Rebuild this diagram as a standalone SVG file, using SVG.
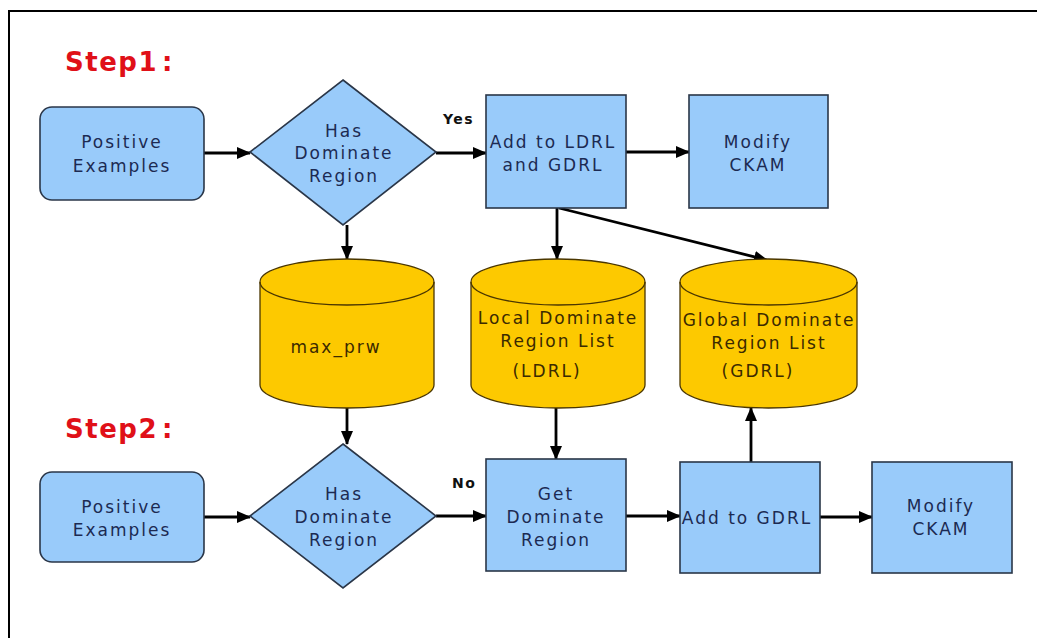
<svg xmlns="http://www.w3.org/2000/svg" width="1037" height="638" viewBox="0 0 1037 638">
  <style>
    .frame { fill: none; stroke: #000; stroke-width: 2; }
    .box { fill: #99cbfa; stroke: #2a3648; stroke-width: 1.6; }
    .db { fill: #fdc900; stroke: #4a3600; stroke-width: 1.3; }
    .db-line { fill: none; stroke: #4a3600; stroke-width: 1.3; }
    .lbl { font-family: "DejaVu Sans", Verdana, sans-serif; font-size: 17px; letter-spacing: 2px; fill: #1c2a52; text-anchor: middle; }
    .dbl { font-family: "DejaVu Sans", Verdana, sans-serif; font-size: 17px; letter-spacing: 2px; fill: #3b2a00; text-anchor: middle; }
    .step { font-family: "DejaVu Sans", Verdana, sans-serif; font-size: 26px; font-weight: bold; letter-spacing: 1.5px; fill: #e01018; }
    .cond { font-family: "DejaVu Sans", Verdana, sans-serif; font-size: 14px; font-weight: bold; letter-spacing: 1.5px; fill: #111; }
    .edge { fill: none; stroke: #000; stroke-width: 2.8; }
  </style>
  <defs>
    <marker id="arrow" markerUnits="userSpaceOnUse" markerWidth="14" markerHeight="12" refX="13" refY="6" orient="auto">
      <path d="M0,0 L14,6 L0,12 Z" fill="#000"/>
    </marker>
  </defs>

  <rect width="1037" height="638" fill="#fff"/>
  <rect class="frame" x="9" y="11" width="1040" height="640"/>

  <!-- step headings -->
  <text class="step" x="65" y="71">Step1<tspan dx="4">:</tspan></text>
  <text class="step" x="65" y="438">Step2<tspan dx="4">:</tspan></text>

  <!-- connectors -->
  <g id="connectors">
    <line class="edge" x1="204" y1="153" x2="250" y2="153" marker-end="url(#arrow)"/>
    <line class="edge" x1="436" y1="153" x2="486" y2="153" marker-end="url(#arrow)"/>
    <line class="edge" x1="626" y1="152" x2="689" y2="152" marker-end="url(#arrow)"/>
    <line class="edge" x1="557" y1="208" x2="557" y2="259" marker-end="url(#arrow)"/>
    <line class="edge" x1="559" y1="208" x2="767" y2="260" marker-end="url(#arrow)"/>
    <line class="edge" x1="347" y1="225" x2="347" y2="259" marker-end="url(#arrow)"/>
    <line class="edge" x1="347" y1="408" x2="347" y2="444" marker-end="url(#arrow)"/>
    <line class="edge" x1="556" y1="408" x2="556" y2="459" marker-end="url(#arrow)"/>
    <line class="edge" x1="204" y1="517" x2="250" y2="517" marker-end="url(#arrow)"/>
    <line class="edge" x1="436" y1="516" x2="486" y2="516" marker-end="url(#arrow)"/>
    <line class="edge" x1="626" y1="516" x2="680" y2="516" marker-end="url(#arrow)"/>
    <line class="edge" x1="751" y1="462" x2="751" y2="408" marker-end="url(#arrow)"/>
    <line class="edge" x1="820" y1="517" x2="872" y2="517" marker-end="url(#arrow)"/>
    <text class="cond" x="443" y="124">Yes</text>
    <text class="cond" x="452" y="488">No</text>
  </g>

  <!-- step 1 -->
  <g id="pos1">
    <rect class="box" x="40" y="107" width="164" height="93" rx="12"/>
    <text class="lbl" x="122" y="148">Positive</text>
    <text class="lbl" x="122" y="172">Examples</text>
  </g>
  <g id="dec1">
    <polygon class="box" points="343,80 436,152 343,225 250,152"/>
    <text class="lbl" x="344" y="137">Has</text>
    <text class="lbl" x="344" y="159">Dominate</text>
    <text class="lbl" x="344" y="182">Region</text>
  </g>
  <g id="add1">
    <rect class="box" x="486" y="95" width="140" height="113"/>
    <text class="lbl" x="553" y="148">Add to LDRL</text>
    <text class="lbl" x="553" y="171">and GDRL</text>
  </g>
  <g id="mod1">
    <rect class="box" x="689" y="95" width="139" height="113"/>
    <text class="lbl" x="758" y="148">Modify</text>
    <text class="lbl" x="758" y="171">CKAM</text>
  </g>

  <!-- data stores -->
  <g id="maxprw">
    <path class="db" d="M260,282 A87,23 0 0 1 434,282 L434,385 A87,23 0 0 1 260,385 Z"/>
    <path class="db-line" d="M260,282 A87,23 0 0 0 434,282"/>
    <text class="dbl" x="336" y="353">max_prw</text>
  </g>
  <g id="ldrl">
    <path class="db" d="M471,282 A87,23 0 0 1 645,282 L645,385 A87,23 0 0 1 471,385 Z"/>
    <path class="db-line" d="M471,282 A87,23 0 0 0 645,282"/>
    <text class="dbl" x="558" y="324">Local Dominate</text>
    <text class="dbl" x="558" y="347">Region List</text>
    <text class="dbl" x="547" y="377">(LDRL)</text>
  </g>
  <g id="gdrl">
    <path class="db" d="M680,282 A88.5,23 0 0 1 857,282 L857,385 A88.5,23 0 0 1 680,385 Z"/>
    <path class="db-line" d="M680,282 A88.5,23 0 0 0 857,282"/>
    <text class="dbl" x="769" y="326">Global Dominate</text>
    <text class="dbl" x="769" y="349">Region List</text>
    <text class="dbl" x="758" y="377">(GDRL)</text>
  </g>

  <!-- step 2 -->
  <g id="pos2">
    <rect class="box" x="40" y="472" width="164" height="90" rx="12"/>
    <text class="lbl" x="122" y="513">Positive</text>
    <text class="lbl" x="122" y="536">Examples</text>
  </g>
  <g id="dec2">
    <polygon class="box" points="343,444 436,516 343,588 250,516"/>
    <text class="lbl" x="344" y="500">Has</text>
    <text class="lbl" x="344" y="523">Dominate</text>
    <text class="lbl" x="344" y="546">Region</text>
  </g>
  <g id="getdr">
    <rect class="box" x="486" y="459" width="140" height="112"/>
    <text class="lbl" x="556" y="500">Get</text>
    <text class="lbl" x="556" y="523">Dominate</text>
    <text class="lbl" x="556" y="546">Region</text>
  </g>
  <g id="add2">
    <rect class="box" x="680" y="462" width="140" height="111"/>
    <text class="lbl" x="747" y="524">Add to GDRL</text>
  </g>
  <g id="mod2">
    <rect class="box" x="872" y="462" width="140" height="111"/>
    <text class="lbl" x="941" y="512">Modify</text>
    <text class="lbl" x="941" y="535">CKAM</text>
  </g>
</svg>
